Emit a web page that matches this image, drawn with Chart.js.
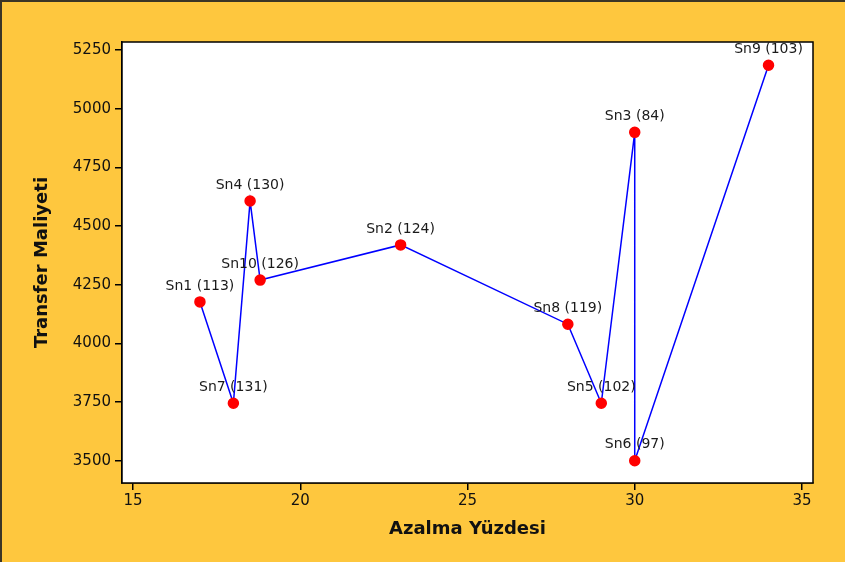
<!DOCTYPE html>
<html>
<head>
<meta charset="utf-8">
<script src="https://cdn.jsdelivr.net/npm/chart.js@4"></script>
<style>
  html, body { margin: 0; padding: 0; background: #FEC73E; }
  #wrap {
    position: relative; width: 845px; height: 562px;
    box-sizing: border-box; border-left: 2px solid #3b3526; border-top: 2px solid #3b3526;
  }
  canvas { position: absolute; left: -2px; top: -2px; }
</style>
</head>
<body>
<div id="wrap"><canvas id="scatterChart" width="845" height="562"></canvas></div>
<script>
// path order as drawn in the reference
const names   = ['Sn1', 'Sn7', 'Sn4', 'Sn10', 'Sn2', 'Sn8', 'Sn5', 'Sn3', 'Sn6', 'Sn9'];
const counts  = [113, 131, 130, 126, 124, 119, 102, 84, 97, 103];
const azalma  = [17, 18, 18.5, 18.8, 23, 28, 29, 30, 30, 34];
const maliyet = [4177, 3745, 4607, 4270, 4420, 4082, 3745, 4900, 3500, 5186];
const xTicks  = [15, 20, 25, 30, 35];
const yTicks  = [3500, 3750, 4000, 4250, 4500, 4750, 5000, 5250];

const points = azalma.map((x, i) => ({ x: x, y: maliyet[i] }));

// frame around plot area + point labels
const framePlugin = {
  id: 'frame',
  afterDatasetsDraw(chart) {
    const { ctx, chartArea: a, scales } = chart;
    ctx.save();
    ctx.strokeStyle = '#000';
    ctx.lineWidth = 1.5;
    ctx.strokeRect(a.left, a.top, a.right - a.left, a.bottom - a.top);
    ctx.font = '14px "DejaVu Sans", sans-serif';
    ctx.fillStyle = '#1a1a1a';
    ctx.textAlign = 'center';
    ctx.textBaseline = 'middle';
    names.forEach((n, i) => {
      const px = scales.x.getPixelForValue(azalma[i]);
      const py = scales.y.getPixelForValue(maliyet[i]);
      ctx.fillText(n + ' (' + counts[i] + ')', px, py - 16);
    });
    ctx.restore();
  }
};

new Chart(document.getElementById('scatterChart').getContext('2d'), {
  type: 'scatter',
  data: {
    datasets: [{
      data: points,
      showLine: true,
      borderColor: '#0000FF',
      borderWidth: 1.5,
      pointBackgroundColor: '#FF0000',
      pointBorderColor: '#FF0000',
      pointRadius: 5,
      tension: 0
    }]
  },
  options: {
    responsive: false,
    animation: false,
    layout: { padding: { top: 42, right: 32, left: 28, bottom: 18 } },
    plugins: {
      legend: { display: false },
      tooltip: { enabled: false }
    },
    scales: {
      x: {
        type: 'linear',
        min: 14.67,
        max: 35.33,
        afterBuildTicks: s => { s.ticks = xTicks.map(v => ({ value: v })); },
        afterFit: s => { s.height = 562 - 483 - 18; },
        ticks: {
          color: '#111',
          font: { family: '"DejaVu Sans", sans-serif', size: 15 },
          padding: 2,
          callback: v => String(v)
        },
        grid: { drawOnChartArea: false, drawTicks: true, tickLength: 7, color: '#000', lineWidth: 1.5 },
        border: { display: true, color: '#000', width: 1.5 },
        title: {
          display: true,
          text: 'Azalma Yüzdesi',
          color: '#111',
          font: { family: '"DejaVu Sans", sans-serif', size: 18, weight: 'bold' },
          padding: 4
        }
      },
      y: {
        type: 'linear',
        min: 3405,
        max: 5285,
        afterBuildTicks: s => { s.ticks = yTicks.map(v => ({ value: v })); },
        afterFit: s => { s.width = 122 - 28; },
        ticks: {
          color: '#111',
          font: { family: '"DejaVu Sans", sans-serif', size: 15 },
          padding: 4,
          callback: v => String(v)
        },
        grid: { drawOnChartArea: false, drawTicks: true, tickLength: 7, color: '#000', lineWidth: 1.5 },
        border: { display: true, color: '#000', width: 1.5 },
        title: {
          display: true,
          text: 'Transfer Maliyeti',
          color: '#111',
          font: { family: '"DejaVu Sans", sans-serif', size: 18, weight: 'bold' },
          padding: 4
        }
      }
    }
  },
  plugins: [framePlugin, {
    id: 'whiteArea',
    beforeDatasetsDraw(chart) {
      const { ctx, chartArea: a } = chart;
      ctx.save();
      ctx.fillStyle = '#fff';
      ctx.fillRect(a.left, a.top, a.right - a.left, a.bottom - a.top);
      ctx.restore();
    }
  }]
});
</script>
</body>
</html>
